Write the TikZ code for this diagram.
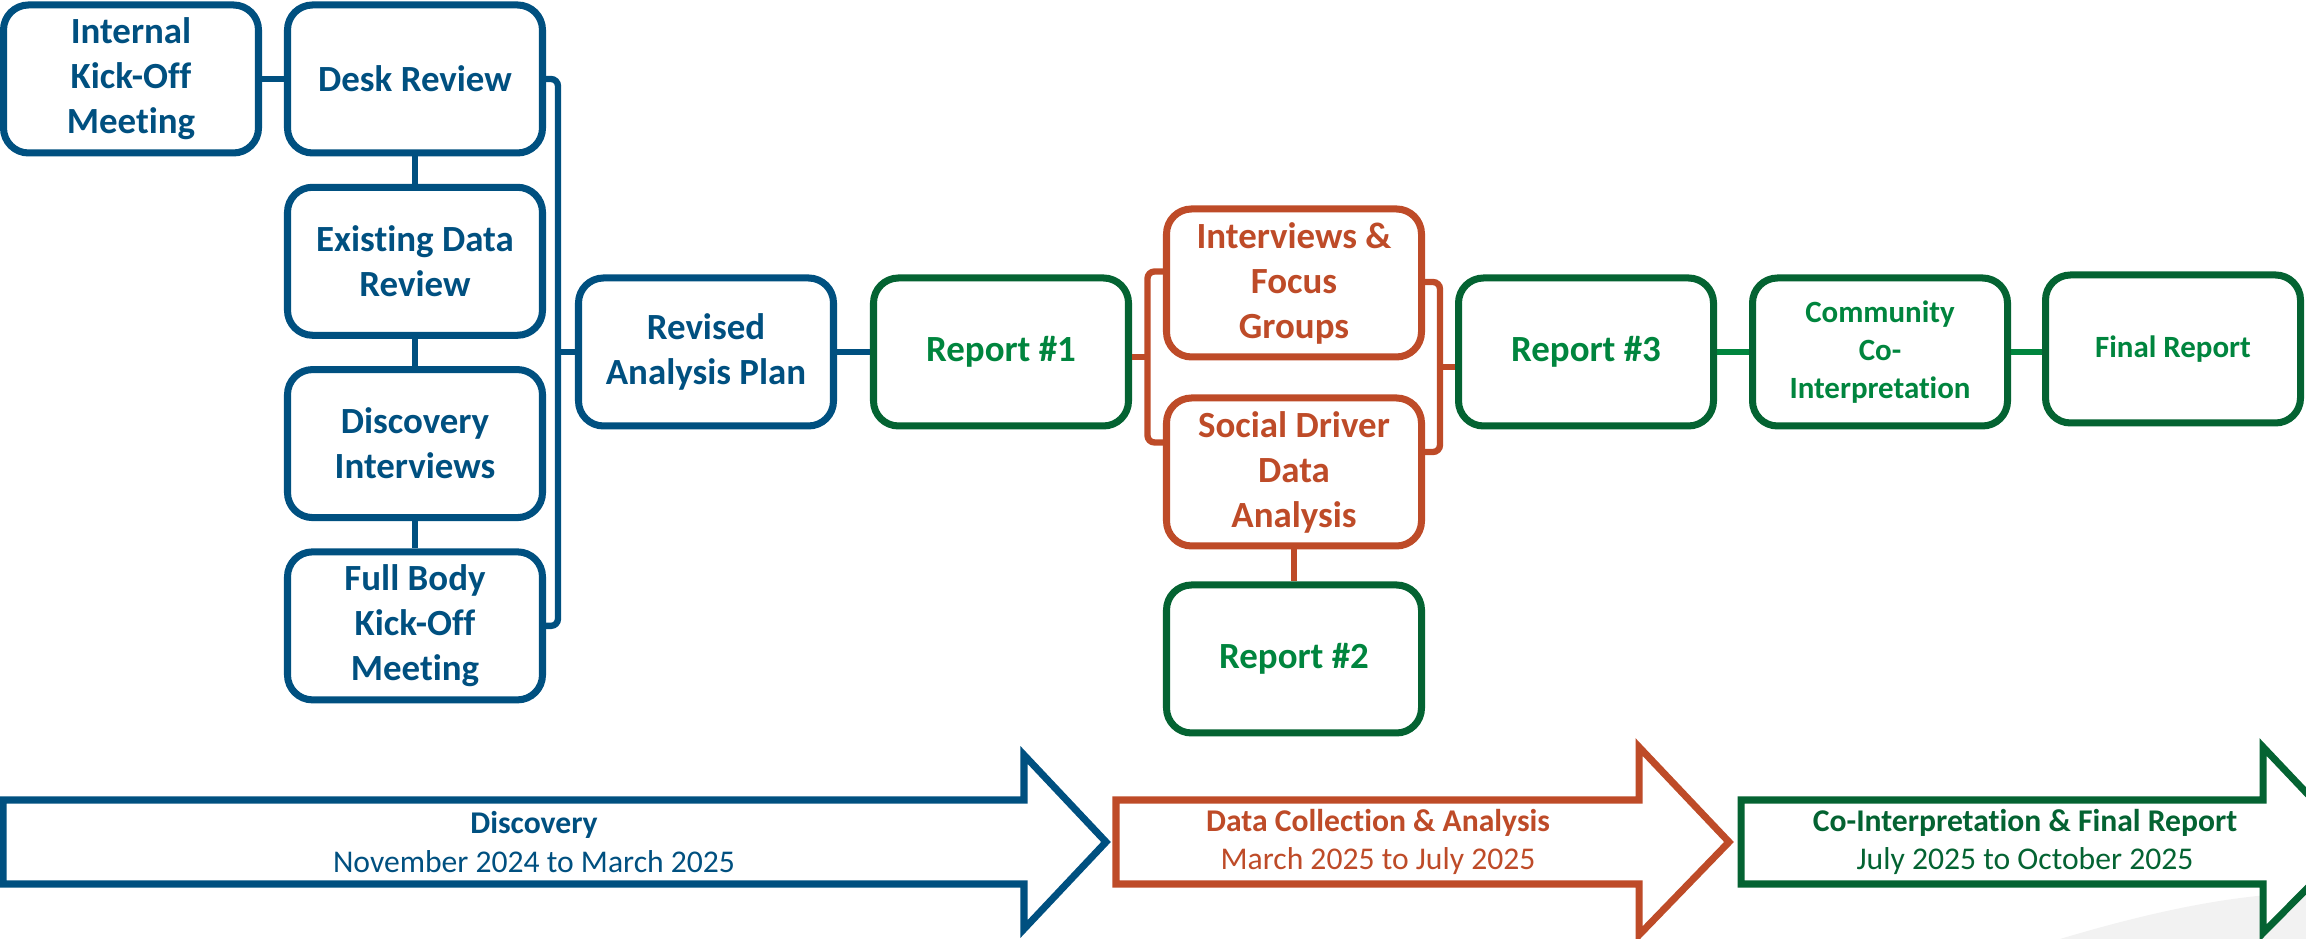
\documentclass[tikz,border=0pt]{standalone}
\usepackage{fontspec}
\setmainfont{Carlito}[Ligatures=NoCommon]
\usetikzlibrary{positioning,calc}

\definecolor{phaseblue}{RGB}{0,80,128}
\definecolor{phaseorange}{RGB}{190,75,40}
\definecolor{phasegreen}{RGB}{4,99,50}
\definecolor{textgreen}{RGB}{0,133,62}

\tikzset{
	task/.style={draw, rounded corners=0.25cm, line width=2pt, fill=white, inner sep=1pt,
		minimum width=2.55cm, minimum height=1.48cm, align=center,
		font=\bfseries\fontsize{10.5}{12.8}\selectfont},
	blue task/.style={task, draw=phaseblue, text=phaseblue},
	orange task/.style={task, draw=phaseorange, text=phaseorange},
	green task/.style={task, draw=phasegreen, text=textgreen},
	small task/.style={green task, font=\bfseries\fontsize{8.8}{10.8}\selectfont},
	link/.style={line width=1.8pt},
	phase/.style={line width=2pt, fill=white, line join=miter},
	phase text/.style={align=center, font=\fontsize{9}{11}\selectfont},
}

\begin{document}
\begin{tikzpicture}[node distance=2.93cm, on grid]
	\useasboundingbox (0,0) rectangle (23.06,9.39);
	\clip (0,0) rectangle (23.06,9.39);
	\fill[black!5] (20.6,0) .. controls (21.6,0.3) and (22.4,0.45) .. (23.06,0.46) -- (23.06,0) -- cycle;

	% tasks
	\node[blue task] (1) at (4.15,8.60) {Desk Review};
	\node[blue task] (0) [left=2.84 of 1] {Internal\\Kick-Off\\Meeting};
	\node[blue task] (2) [below=1.823 of 1] {Existing Data\\Review};
	\node[blue task] (3) [below=1.823 of 2] {Discovery\\Interviews};
	\node[blue task] (4) [below=1.823 of 3] {Full Body\\Kick-Off\\Meeting};
	\node[blue task] (5) at (7.06,5.87) {Revised\\Analysis Plan};
	\node[green task] (6) [right=2.95 of 5] {Report \#1};
	\node[orange task] (7) at (12.94,6.56) {Interviews \&\\Focus\\Groups};
	\node[orange task] (8) [below=1.89 of 7] {Social Driver\\Data\\Analysis};
	\node[green task] (9) [below=1.87 of 8] {Report \#2};
	\node[green task] (10) [right=5.85 of 6] {Report \#3};
	\node[small task] (11) [right=2.94 of 10] {Community\\Co-\\Interpretation};
	\node[small task] (12) [right=2.93 of 11, yshift=0.03cm] {Final Report};

	% links
	\draw[link, phaseblue] (0) -- (1);
	\draw[link, phaseblue] (1) -- (2) (2) -- (3) (3) -- (4);
	\coordinate (b) at ($(5.west)+(-0.17,0)$);
	\draw[link, phaseblue, rounded corners=2pt] (1.east) -| (b) |- (4.east);
	\draw[link, phaseblue] (b) -- (5.west);
	\draw[link, phaseblue] (5) -- (6);

	\coordinate (l) at ($(6.east)!0.5!(7.west |- 6.east)+(0,-0.05)$);
	\draw[link, phaseorange] (6.east |- l) -- (l);
	\draw[link, phaseorange, rounded corners=2pt] ($(7.west |- l)+(0,0.855)$) -| (l) |- ($(8.west |- l)+(0,-0.855)$);
	\coordinate (r) at ($(10.west)!0.5!(7.east |- 10.west)+(0,-0.15)$);
	\draw[link, phaseorange] (r) -- (10.west |- r);
	\draw[link, phaseorange, rounded corners=2pt] ($(7.east |- r)+(0,0.85)$) -| (r) |- ($(8.east |- r)+(0,-0.85)$);
	\draw[link, phaseorange] (8) -- (9);

	\draw[link, textgreen] (10) -- (11);
	\draw[link, textgreen] (11.east) -- (11.east -| 12.west);

	% phases
	\draw[phase, draw=phaseblue] (0.03,1.39) -- (10.24,1.39) -- (10.24,1.84) -- (11.06,0.97)
		-- (10.24,0.10) -- (10.24,0.55) -- (0.03,0.55) -- cycle;
	\draw[phase, draw=phaseorange] (11.16,1.39) -- (16.39,1.39) -- (16.39,1.92) -- (17.29,0.97)
		-- (16.39,0.04) -- (16.39,0.55) -- (11.16,0.55) -- cycle;
	\draw[phase, draw=phasegreen] (17.41,1.39) -- (22.63,1.39) -- (22.63,1.92) -- (23.53,0.97)
		-- (22.63,0.06) -- (22.63,0.55) -- (17.41,0.55) -- cycle;

	\node[phase text, text=phaseblue] (d) at (5.34,0.97) {\textbf{Discovery}\\November 2024 to March 2025};
	\node[phase text, text=phaseorange] (c) at (13.78,0.97) {\textbf{Data Collection \& Analysis}\\March 2025 to July 2025};
	\node[phase text, text=phasegreen] (f) at (20.25,0.97) {\textbf{Co-Interpretation \& Final Report}\\July 2025 to October 2025};
\end{tikzpicture}
\end{document}
